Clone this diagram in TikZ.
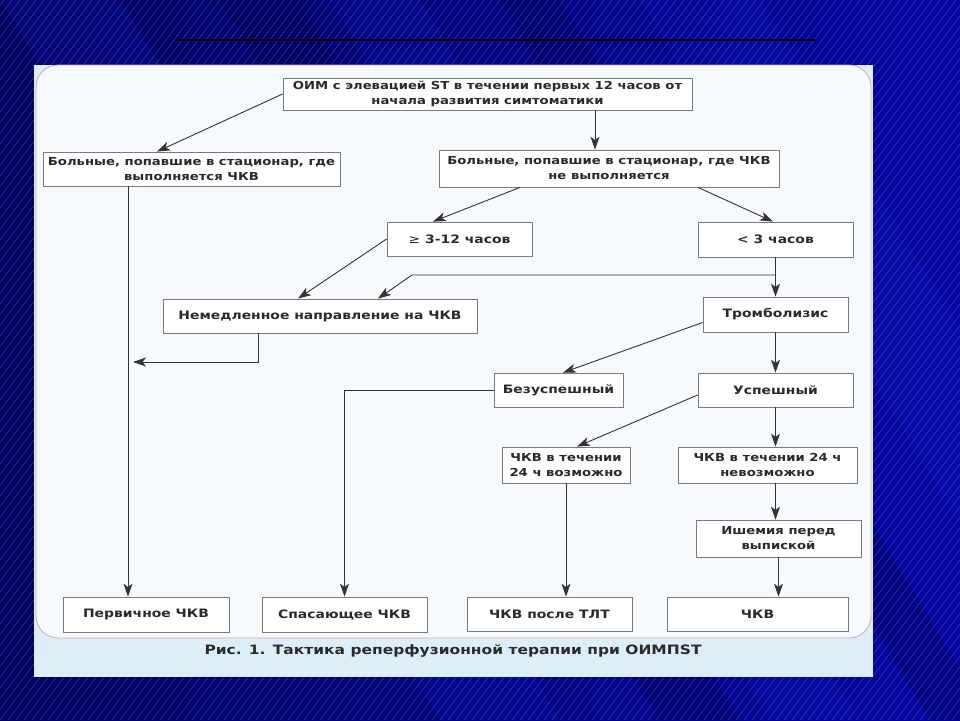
\documentclass[tikz,border=0pt]{standalone}
\usepackage{fontspec}
\setmainfont{DejaVu Sans}
\newfontfamily\bx{DejaVu Sans}[FakeStretch=1.2]
\usetikzlibrary{arrows.meta,calc}
\definecolor{bgL}{HTML}{000260}
\definecolor{bgR}{HTML}{0204A0}
\definecolor{band}{HTML}{1418C0}
\definecolor{dband}{HTML}{000050}
\definecolor{hatchc}{HTML}{A8B8FF}
\definecolor{panel}{HTML}{DCEFF8}
\definecolor{inner}{HTML}{F7FAFC}
\definecolor{rim}{HTML}{CFA7B4}
\definecolor{boxgray}{HTML}{7A7A7A}
\definecolor{linegray}{HTML}{333333}
\definecolor{txt}{HTML}{2A2A2A}
\tikzset{
  box/.style={draw=boxgray, line width=0.8pt, fill=white, text=txt, align=center,
    inner sep=0pt, font=\bx\bfseries\fontsize{11}{15}\selectfont},
  box1/.style={box, font=\bx\bfseries\fontsize{11.6}{15}\selectfont},
  arr/.style={draw=linegray, line width=0.9pt, -{Stealth[length=13pt,width=9pt,inset=3.5pt]}},
  hatch/.style={draw=hatchc, line width=0.5pt, opacity=0.35},
}
\begin{document}
\begin{tikzpicture}[x=1pt,y=-1pt]
\useasboundingbox (0,0) rectangle (960,720);
% background
\shade[left color=bgL, right color=bgR] (0,0) rectangle (960,720);
\begin{scope}
\clip (0,0) rectangle (960,720);
\fill[band, opacity=0.22] (0,0) -- (120,0) -- (560,720) -- (440,720) -- cycle;
\fill[band, opacity=0.20] (330,0) -- (420,0) -- (860,720) -- (770,720) -- cycle;
\fill[band, opacity=0.22] (640,0) -- (760,0) -- (1200,720) -- (1080,720) -- cycle;
\fill[dband, opacity=0.35] (500,0) -- (560,0) -- (990,720) -- (930,720) -- cycle;
\fill[dband, opacity=0.35] (220,0) -- (300,0) -- (740,720) -- (660,720) -- cycle;
\foreach \i in {-560,-552,...,960} \draw[hatch] (\i,720) -- ({\i+540},0);
\end{scope}
\draw[line width=2pt, black] (175,40) -- (815,40);
% panel
\fill[panel] (34,65) rectangle (873,677);
\draw[rim, fill=inner, line width=0.8pt, rounded corners=22pt] (36,65) rectangle (871,638);
% nodes
\node[box, minimum width=409pt, minimum height=32pt] (top) at (487.5,94)
  {ОИМ с элевацией ST в течении первых 12 часов от\\начала развития симтоматики};
\node[box, minimum width=297pt, minimum height=34pt] (b1) at (191.5,169)
  {Больные, попавшие в стационар, где\\выполняется ЧКВ};
\node[box, minimum width=340pt, minimum height=37pt] (b2) at (609,168.5)
  {Больные, попавшие в стационар, где ЧКВ\\не выполняется};
\node[box1, minimum width=145pt, minimum height=34pt] (late) at (459.5,239)
  {{\mdseries ≥} 3-12 часов};
\node[box1, minimum width=155pt, minimum height=35pt] (early) at (775.5,239.5)
  {< 3 часов};
\node[box1, minimum width=314pt, minimum height=34pt] (imm) at (320,316)
  {Немедленное направление на ЧКВ};
\node[box1, minimum width=145pt, minimum height=35pt] (tromb) at (775.5,314.5)
  {Тромболизис};
\node[box1, minimum width=129pt, minimum height=34pt] (fail) at (558.5,390)
  {Безуспешный};
\node[box1, minimum width=155pt, minimum height=34pt] (succ) at (775.5,390)
  {Успешный};
\node[box, minimum width=128pt, minimum height=36pt] (poss) at (566,465)
  {ЧКВ в течении\\24 ч возможно};
\node[box, minimum width=179pt, minimum height=36pt] (imposs) at (767.5,465)
  {ЧКВ в течении 24 ч\\невозможно};
\node[box, minimum width=165pt, minimum height=37pt] (isch) at (778.5,538.5)
  {Ишемия перед\\выпиской};
\node[box1, minimum width=166pt, minimum height=35pt] (prim) at (146,614.5)
  {Первичное ЧКВ};
\node[box1, minimum width=165pt, minimum height=35pt] (resc) at (344.5,614.5)
  {Спасающее ЧКВ};
\node[box1, minimum width=165pt, minimum height=34pt] (post) at (549.5,614)
  {ЧКВ после ТЛТ};
\node[box1, minimum width=181pt, minimum height=34pt] (pci) at (757.5,614)
  {ЧКВ};
\node[text=txt, font=\bx\bfseries\fontsize{12.9}{15}\selectfont] (cap) at (453,651)
  {Рис. 1. Тактика реперфузионной терапии при ОИМПST};
% connectors
\draw[arr] (top.west) -- ([xshift=-34.5pt]b1.north);
\draw[arr] ([xshift=107.5pt]top.south) -- ([xshift=-14pt]b2.north);
\draw[arr] ([xshift=-89pt]b2.south) -- ([xshift=-26.5pt]late.north);
\draw[arr] ([xshift=89pt]b2.south) -- ([xshift=-2.5pt]early.north);
\draw[arr] (late.west) -- ([xshift=-22pt]imm.north);
\draw[arr] (early.south) -- (tromb.north);
\coordinate (j) at (775.5,275);
\coordinate (jb) at (412,275);
\draw[arr] (j) -- (jb) -- ([xshift=58pt]imm.north);
\coordinate (mj) at (133,362);
\draw[arr] ([xshift=-62pt]imm.south) |- (mj);
\coordinate (b1x) at ([xshift=-63.5pt]b1.south);
\draw[arr] (b1x) -- (b1x |- prim.north);
\draw[arr] ([yshift=-8pt]tromb.west) -- ([xshift=4.5pt]fail.north);
\draw[arr] (tromb.south) -- (succ.north);
\draw[arr] (fail.west) -| (resc.north);
\draw[arr] ([yshift=-5pt]succ.west) -- ([xshift=11pt]poss.north);
\draw[arr] (succ.south) -- (succ.south |- imposs.north);
\draw[arr] (succ.south |- imposs.south) -- (succ.south |- isch.north);
\draw[arr] (isch.south) -- (isch.south |- pci.north);
\draw[arr] (poss.south) -- (poss.south |- post.north);
\end{tikzpicture}
\end{document}
